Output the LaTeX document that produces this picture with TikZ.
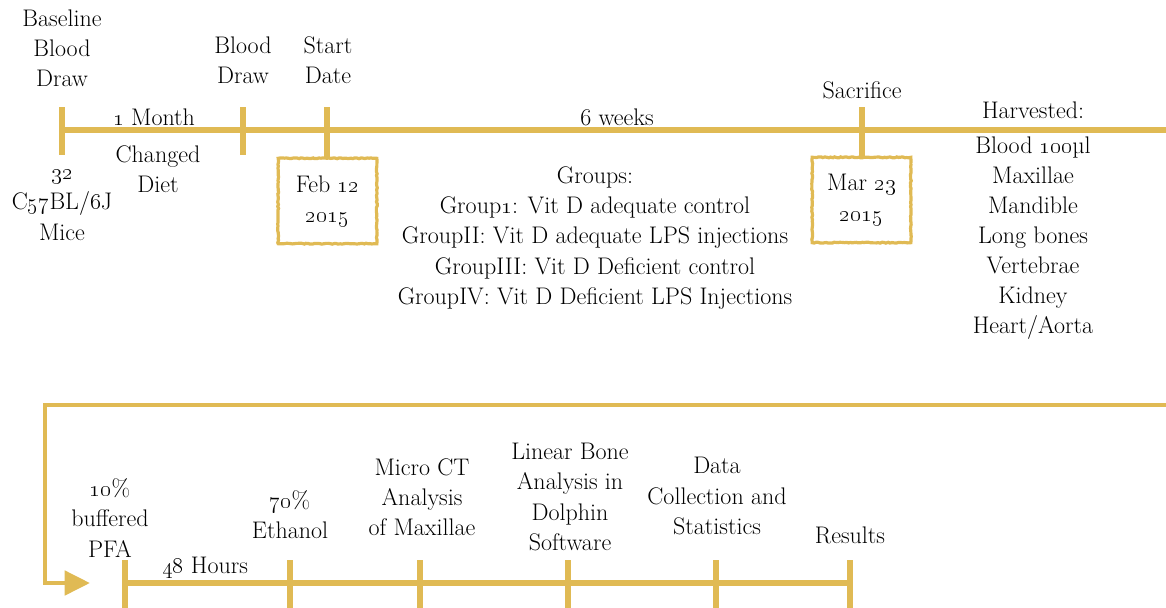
\documentclass[tikz,border=0pt]{standalone}
\usetikzlibrary{arrows.meta,decorations.pathmorphing}
\definecolor{gold}{RGB}{224,186,84}
\newcommand{\osn}[1]{\oldstylenums{#1}}
\begin{document}
\begin{tikzpicture}[x=0.75pt,y=-0.75pt,
  tl/.style={draw=gold,line width=3.8pt},
  tick/.style={draw=gold,line width=4.5pt},
  datebox/.style={draw=gold,line width=2.4pt,minimum width=74pt,minimum height=64pt,align=center,
    decorate,decoration={random steps,segment length=1.5pt,amplitude=0.35pt}},
  lbl/.style={align=center,font=\rmfamily\fontsize{18}{22.6}\selectfont,inner sep=0pt}]
\useasboundingbox (0,0) rectangle (1166,607);
% top timeline
\coordinate (t0) at (62,130);
\coordinate (t1) at (243,130);
\coordinate (t2) at (327,130);
\coordinate (t3) at (862,130);
\coordinate (tend) at (1170,130);
\draw[tl] (t0) -- (tend);
\draw[tick] (62,107) -- (62,155);
\draw[tick] (243,107) -- (243,155);
\draw[tick] (327,107) -- (327,158);
\draw[tick] (862,107) -- (862,158);
\node[datebox] (feb) at (327.5,201) {};
\node[lbl] at (feb.center) {Feb \osn{12}\\\osn{2015}};
\node[datebox] (mar) at (861.5,200) {};
\node[lbl] at (mar.center) {Mar \osn{23}\\\osn{2015}};
% top labels
\node[lbl] (bbd) at (62,48) {Baseline\\Blood\\Draw};
\node[lbl] (bd) at (243,60) {Blood\\Draw};
\node[lbl] (sd) at (328,60) {Start\\Date};
\node[lbl] (mon) at (154,117) {\osn{1} Month};
\node[lbl] (wk) at (617,117) {6 weeks};
\node[lbl] (sac) at (862,90) {Sacrifice};
\node[lbl] (mice) at (62,205) {\osn{32}\\C\osn{57}BL/\osn{6}J\\Mice};
\node[lbl] (diet) at (158,169) {Changed\\Diet};
\node[lbl] (grp) at (595,238) {Groups:\\Group\osn{1}: Vit D adequate control\\GroupII: Vit D adequate LPS injections\\GroupIII: Vit D Deficient control\\GroupIV: Vit D Deficient LPS Injections};
\node[lbl] (harv) at (1033,221) {Harvested:\\[3pt]Blood \osn{100}µl\\Maxillae\\Mandible\\Long bones\\Vertebrae\\Kidney\\Heart/Aorta};
% bottom timeline
\coordinate (r0) at (1170,405);
\coordinate (c1) at (45,405);
\coordinate (c2) at (45,583);
\coordinate (ah) at (90,583);
\draw[draw=gold,line width=3.6pt] (r0) -- (c1) -- (c2) -- (60,583);
\draw[draw=gold,line width=3.6pt,-{Triangle[length=19pt,width=18pt]}] (58,583) -- (ah);
\coordinate (b0) at (125,583);
\coordinate (b5) at (850,583);
\draw[tl] (b0) -- (b5);
\foreach \x in {125,290,420,568,716,850} \draw[tick] (\x,560) -- (\x,612);
\node[lbl] (pfa) at (110,518) {\osn{10}\%\\buffered\\PFA};
\node[lbl] (h48) at (205,568) {\osn{48} Hours};
\node[lbl] (eth) at (290,515) {\osn{70}\%\\Ethanol};
\node[lbl] (mct) at (422,497) {Micro CT\\Analysis\\of Maxillae};
\node[lbl] (lba) at (570,497) {Linear Bone\\Analysis in\\Dolphin\\Software};
\node[lbl] (dcs) at (717,496) {Data\\Collection and\\Statistics};
\node[lbl] (res) at (850,535) {Results};
\end{tikzpicture}
\end{document}
